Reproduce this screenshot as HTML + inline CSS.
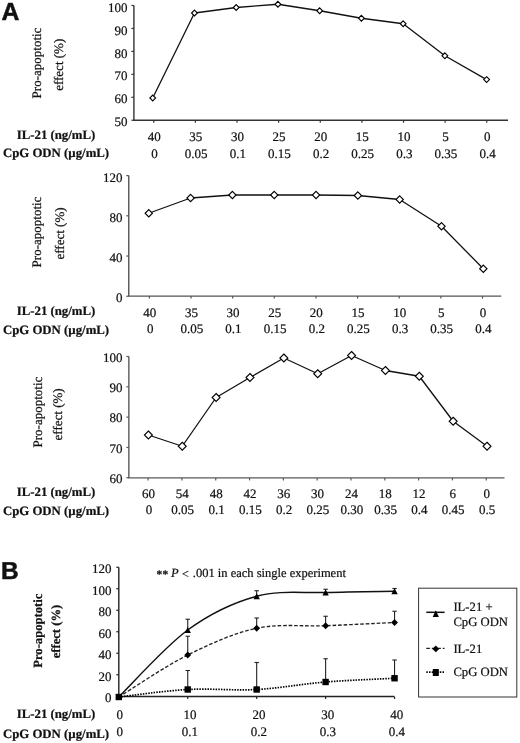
<!DOCTYPE html>
<html><head><meta charset="utf-8"><style>
html,body{margin:0;padding:0;background:#fff;}
svg{display:block;filter:blur(0.3px);}
text{text-rendering:geometricPrecision;fill:#111;stroke:#111;stroke-width:0.22px;}
</style></head><body>
<svg width="520" height="743" viewBox="0 0 520 743">
<rect width="520" height="743" fill="#fff"/>
<line x1="133.9" y1="5.4" x2="133.9" y2="120.25" stroke="#333" stroke-width="1.4"/>
<line x1="133.20000000000002" y1="120.25" x2="508" y2="120.25" stroke="#333" stroke-width="1.4"/>
<line x1="131.4" y1="5.5" x2="133.9" y2="5.5" stroke="#333" stroke-width="1.2"/>
<text x="127.50" y="11.60" font-size="13.0" text-anchor="end" font-weight="normal" font-style="normal" font-family='"Liberation Serif", serif' >100</text>
<line x1="131.4" y1="28.45" x2="133.9" y2="28.45" stroke="#333" stroke-width="1.2"/>
<text x="127.50" y="34.55" font-size="13.0" text-anchor="end" font-weight="normal" font-style="normal" font-family='"Liberation Serif", serif' >90</text>
<line x1="131.4" y1="51.4" x2="133.9" y2="51.4" stroke="#333" stroke-width="1.2"/>
<text x="127.50" y="57.50" font-size="13.0" text-anchor="end" font-weight="normal" font-style="normal" font-family='"Liberation Serif", serif' >80</text>
<line x1="131.4" y1="74.35" x2="133.9" y2="74.35" stroke="#333" stroke-width="1.2"/>
<text x="127.50" y="80.45" font-size="13.0" text-anchor="end" font-weight="normal" font-style="normal" font-family='"Liberation Serif", serif' >70</text>
<line x1="131.4" y1="97.3" x2="133.9" y2="97.3" stroke="#333" stroke-width="1.2"/>
<text x="127.50" y="103.40" font-size="13.0" text-anchor="end" font-weight="normal" font-style="normal" font-family='"Liberation Serif", serif' >60</text>
<line x1="131.4" y1="120.25" x2="133.9" y2="120.25" stroke="#333" stroke-width="1.2"/>
<text x="127.50" y="126.35" font-size="13.0" text-anchor="end" font-weight="normal" font-style="normal" font-family='"Liberation Serif", serif' >50</text>
<line x1="153.75" y1="120.25" x2="153.75" y2="122.75" stroke="#333" stroke-width="1.2"/>
<line x1="195.38" y1="120.25" x2="195.38" y2="122.75" stroke="#333" stroke-width="1.2"/>
<line x1="237.01" y1="120.25" x2="237.01" y2="122.75" stroke="#333" stroke-width="1.2"/>
<line x1="278.64" y1="120.25" x2="278.64" y2="122.75" stroke="#333" stroke-width="1.2"/>
<line x1="320.27" y1="120.25" x2="320.27" y2="122.75" stroke="#333" stroke-width="1.2"/>
<line x1="361.9" y1="120.25" x2="361.9" y2="122.75" stroke="#333" stroke-width="1.2"/>
<line x1="403.53000000000003" y1="120.25" x2="403.53000000000003" y2="122.75" stroke="#333" stroke-width="1.2"/>
<line x1="445.16" y1="120.25" x2="445.16" y2="122.75" stroke="#333" stroke-width="1.2"/>
<line x1="486.79" y1="120.25" x2="486.79" y2="122.75" stroke="#333" stroke-width="1.2"/>
<text x="154.15" y="141.30" font-size="13.0" text-anchor="middle" font-weight="normal" font-style="normal" font-family='"Liberation Serif", serif' >40</text>
<text x="195.78" y="141.30" font-size="13.0" text-anchor="middle" font-weight="normal" font-style="normal" font-family='"Liberation Serif", serif' >35</text>
<text x="237.41" y="141.30" font-size="13.0" text-anchor="middle" font-weight="normal" font-style="normal" font-family='"Liberation Serif", serif' >30</text>
<text x="279.04" y="141.30" font-size="13.0" text-anchor="middle" font-weight="normal" font-style="normal" font-family='"Liberation Serif", serif' >25</text>
<text x="320.67" y="141.30" font-size="13.0" text-anchor="middle" font-weight="normal" font-style="normal" font-family='"Liberation Serif", serif' >20</text>
<text x="362.30" y="141.30" font-size="13.0" text-anchor="middle" font-weight="normal" font-style="normal" font-family='"Liberation Serif", serif' >15</text>
<text x="403.93" y="141.30" font-size="13.0" text-anchor="middle" font-weight="normal" font-style="normal" font-family='"Liberation Serif", serif' >10</text>
<text x="445.56" y="141.30" font-size="13.0" text-anchor="middle" font-weight="normal" font-style="normal" font-family='"Liberation Serif", serif' >5</text>
<text x="487.19" y="141.30" font-size="13.0" text-anchor="middle" font-weight="normal" font-style="normal" font-family='"Liberation Serif", serif' >0</text>
<text x="154.55" y="157.50" font-size="13.0" text-anchor="middle" font-weight="normal" font-style="normal" font-family='"Liberation Serif", serif' >0</text>
<text x="196.18" y="157.50" font-size="13.0" text-anchor="middle" font-weight="normal" font-style="normal" font-family='"Liberation Serif", serif' >0.05</text>
<text x="237.81" y="157.50" font-size="13.0" text-anchor="middle" font-weight="normal" font-style="normal" font-family='"Liberation Serif", serif' >0.1</text>
<text x="279.44" y="157.50" font-size="13.0" text-anchor="middle" font-weight="normal" font-style="normal" font-family='"Liberation Serif", serif' >0.15</text>
<text x="321.07" y="157.50" font-size="13.0" text-anchor="middle" font-weight="normal" font-style="normal" font-family='"Liberation Serif", serif' >0.2</text>
<text x="362.70" y="157.50" font-size="13.0" text-anchor="middle" font-weight="normal" font-style="normal" font-family='"Liberation Serif", serif' >0.25</text>
<text x="404.33" y="157.50" font-size="13.0" text-anchor="middle" font-weight="normal" font-style="normal" font-family='"Liberation Serif", serif' >0.3</text>
<text x="445.96" y="157.50" font-size="13.0" text-anchor="middle" font-weight="normal" font-style="normal" font-family='"Liberation Serif", serif' >0.35</text>
<text x="487.59" y="157.50" font-size="13.0" text-anchor="middle" font-weight="normal" font-style="normal" font-family='"Liberation Serif", serif' >0.4</text>
<polyline points="152.73,98.00 194.47,13.00 236.20,7.50 277.94,4.25 319.67,10.75 361.41,18.25 403.15,23.75 444.88,55.80 486.62,79.60" fill="none" stroke="#111" stroke-width="1.3" stroke-linejoin="round"/>
<polygon points="152.73,95.10 155.63,98.00 152.73,100.90 149.83,98.00" fill="#fff" stroke="#000" stroke-width="1.1"/>
<polygon points="194.47,10.10 197.37,13.00 194.47,15.90 191.57,13.00" fill="#fff" stroke="#000" stroke-width="1.1"/>
<polygon points="236.20,4.60 239.10,7.50 236.20,10.40 233.30,7.50" fill="#fff" stroke="#000" stroke-width="1.1"/>
<polygon points="277.94,1.35 280.84,4.25 277.94,7.15 275.04,4.25" fill="#fff" stroke="#000" stroke-width="1.1"/>
<polygon points="319.67,7.85 322.57,10.75 319.67,13.65 316.77,10.75" fill="#fff" stroke="#000" stroke-width="1.1"/>
<polygon points="361.41,15.35 364.31,18.25 361.41,21.15 358.51,18.25" fill="#fff" stroke="#000" stroke-width="1.1"/>
<polygon points="403.15,20.85 406.05,23.75 403.15,26.65 400.25,23.75" fill="#fff" stroke="#000" stroke-width="1.1"/>
<polygon points="444.88,52.90 447.78,55.80 444.88,58.70 441.98,55.80" fill="#fff" stroke="#000" stroke-width="1.1"/>
<polygon points="486.62,76.70 489.52,79.60 486.62,82.50 483.72,79.60" fill="#fff" stroke="#000" stroke-width="1.1"/>
<text transform="translate(41.30,63.00) rotate(-90)" font-size="13.0" text-anchor="middle" font-family='"Liberation Serif", serif'>Pro-apoptotic</text>
<text transform="translate(62.75,64.80) rotate(-90)" font-size="13.0" text-anchor="middle" font-family='"Liberation Serif", serif'>effect (%)</text>
<text x="56.00" y="138.90" font-size="12.8" text-anchor="middle" font-weight="bold" font-style="normal" font-family='"Liberation Serif", serif' >IL-21 (ng/mL)</text>
<text x="56.00" y="157.30" font-size="12.8" text-anchor="middle" font-weight="bold" font-style="normal" font-family='"Liberation Serif", serif' >CpG ODN (µg/mL)</text>
<line x1="128.75" y1="175.6" x2="128.75" y2="296.1" stroke="#555" stroke-width="1.4"/>
<line x1="128.05" y1="296.1" x2="501.25" y2="296.1" stroke="#555" stroke-width="1.4"/>
<line x1="126.25" y1="175.6" x2="128.75" y2="175.6" stroke="#555" stroke-width="1.2"/>
<text x="122.50" y="181.70" font-size="13.0" text-anchor="end" font-weight="normal" font-style="normal" font-family='"Liberation Serif", serif' >120</text>
<line x1="126.25" y1="215.81666666666666" x2="128.75" y2="215.81666666666666" stroke="#555" stroke-width="1.2"/>
<text x="122.50" y="221.92" font-size="13.0" text-anchor="end" font-weight="normal" font-style="normal" font-family='"Liberation Serif", serif' >80</text>
<line x1="126.25" y1="256.0333333333333" x2="128.75" y2="256.0333333333333" stroke="#555" stroke-width="1.2"/>
<text x="122.50" y="262.13" font-size="13.0" text-anchor="end" font-weight="normal" font-style="normal" font-family='"Liberation Serif", serif' >40</text>
<line x1="126.25" y1="296.25" x2="128.75" y2="296.25" stroke="#555" stroke-width="1.2"/>
<text x="122.50" y="302.35" font-size="13.0" text-anchor="end" font-weight="normal" font-style="normal" font-family='"Liberation Serif", serif' >0</text>
<line x1="149.4" y1="296.1" x2="149.4" y2="298.6" stroke="#555" stroke-width="1.2"/>
<line x1="191.04000000000002" y1="296.1" x2="191.04000000000002" y2="298.6" stroke="#555" stroke-width="1.2"/>
<line x1="232.68" y1="296.1" x2="232.68" y2="298.6" stroke="#555" stroke-width="1.2"/>
<line x1="274.32" y1="296.1" x2="274.32" y2="298.6" stroke="#555" stroke-width="1.2"/>
<line x1="315.96000000000004" y1="296.1" x2="315.96000000000004" y2="298.6" stroke="#555" stroke-width="1.2"/>
<line x1="357.6" y1="296.1" x2="357.6" y2="298.6" stroke="#555" stroke-width="1.2"/>
<line x1="399.24" y1="296.1" x2="399.24" y2="298.6" stroke="#555" stroke-width="1.2"/>
<line x1="440.88" y1="296.1" x2="440.88" y2="298.6" stroke="#555" stroke-width="1.2"/>
<line x1="482.52" y1="296.1" x2="482.52" y2="298.6" stroke="#555" stroke-width="1.2"/>
<text x="149.80" y="317.00" font-size="13.0" text-anchor="middle" font-weight="normal" font-style="normal" font-family='"Liberation Serif", serif' >40</text>
<text x="191.44" y="317.00" font-size="13.0" text-anchor="middle" font-weight="normal" font-style="normal" font-family='"Liberation Serif", serif' >35</text>
<text x="233.08" y="317.00" font-size="13.0" text-anchor="middle" font-weight="normal" font-style="normal" font-family='"Liberation Serif", serif' >30</text>
<text x="274.72" y="317.00" font-size="13.0" text-anchor="middle" font-weight="normal" font-style="normal" font-family='"Liberation Serif", serif' >25</text>
<text x="316.36" y="317.00" font-size="13.0" text-anchor="middle" font-weight="normal" font-style="normal" font-family='"Liberation Serif", serif' >20</text>
<text x="358.00" y="317.00" font-size="13.0" text-anchor="middle" font-weight="normal" font-style="normal" font-family='"Liberation Serif", serif' >15</text>
<text x="399.64" y="317.00" font-size="13.0" text-anchor="middle" font-weight="normal" font-style="normal" font-family='"Liberation Serif", serif' >10</text>
<text x="441.28" y="317.00" font-size="13.0" text-anchor="middle" font-weight="normal" font-style="normal" font-family='"Liberation Serif", serif' >5</text>
<text x="482.92" y="317.00" font-size="13.0" text-anchor="middle" font-weight="normal" font-style="normal" font-family='"Liberation Serif", serif' >0</text>
<text x="150.20" y="333.25" font-size="13.0" text-anchor="middle" font-weight="normal" font-style="normal" font-family='"Liberation Serif", serif' >0</text>
<text x="191.84" y="333.25" font-size="13.0" text-anchor="middle" font-weight="normal" font-style="normal" font-family='"Liberation Serif", serif' >0.05</text>
<text x="233.48" y="333.25" font-size="13.0" text-anchor="middle" font-weight="normal" font-style="normal" font-family='"Liberation Serif", serif' >0.1</text>
<text x="275.12" y="333.25" font-size="13.0" text-anchor="middle" font-weight="normal" font-style="normal" font-family='"Liberation Serif", serif' >0.15</text>
<text x="316.76" y="333.25" font-size="13.0" text-anchor="middle" font-weight="normal" font-style="normal" font-family='"Liberation Serif", serif' >0.2</text>
<text x="358.40" y="333.25" font-size="13.0" text-anchor="middle" font-weight="normal" font-style="normal" font-family='"Liberation Serif", serif' >0.25</text>
<text x="400.04" y="333.25" font-size="13.0" text-anchor="middle" font-weight="normal" font-style="normal" font-family='"Liberation Serif", serif' >0.3</text>
<text x="441.68" y="333.25" font-size="13.0" text-anchor="middle" font-weight="normal" font-style="normal" font-family='"Liberation Serif", serif' >0.35</text>
<text x="483.32" y="333.25" font-size="13.0" text-anchor="middle" font-weight="normal" font-style="normal" font-family='"Liberation Serif", serif' >0.4</text>
<polyline points="148.77,213.25 190.59,198.00 232.41,195.00 274.23,195.00 316.05,195.00 357.87,195.50 399.69,199.50 441.51,226.25 483.33,268.75" fill="none" stroke="#111" stroke-width="1.3" stroke-linejoin="round"/>
<polygon points="148.77,209.55 152.47,213.25 148.77,216.95 145.07,213.25" fill="#fff" stroke="#000" stroke-width="1.1"/>
<polygon points="190.59,194.30 194.29,198.00 190.59,201.70 186.89,198.00" fill="#fff" stroke="#000" stroke-width="1.1"/>
<polygon points="232.41,191.30 236.11,195.00 232.41,198.70 228.71,195.00" fill="#fff" stroke="#000" stroke-width="1.1"/>
<polygon points="274.23,191.30 277.93,195.00 274.23,198.70 270.53,195.00" fill="#fff" stroke="#000" stroke-width="1.1"/>
<polygon points="316.05,191.30 319.75,195.00 316.05,198.70 312.35,195.00" fill="#fff" stroke="#000" stroke-width="1.1"/>
<polygon points="357.87,191.80 361.57,195.50 357.87,199.20 354.17,195.50" fill="#fff" stroke="#000" stroke-width="1.1"/>
<polygon points="399.69,195.80 403.39,199.50 399.69,203.20 395.99,199.50" fill="#fff" stroke="#000" stroke-width="1.1"/>
<polygon points="441.51,222.55 445.21,226.25 441.51,229.95 437.81,226.25" fill="#fff" stroke="#000" stroke-width="1.1"/>
<polygon points="483.33,265.05 487.03,268.75 483.33,272.45 479.63,268.75" fill="#fff" stroke="#000" stroke-width="1.1"/>
<text transform="translate(41.20,232.00) rotate(-90)" font-size="13.0" text-anchor="middle" font-family='"Liberation Serif", serif'>Pro-apoptotic</text>
<text transform="translate(63.85,233.50) rotate(-90)" font-size="13.0" text-anchor="middle" font-family='"Liberation Serif", serif'>effect (%)</text>
<text x="56.00" y="315.00" font-size="12.8" text-anchor="middle" font-weight="bold" font-style="normal" font-family='"Liberation Serif", serif' >IL-21 (ng/mL)</text>
<text x="56.00" y="333.75" font-size="12.8" text-anchor="middle" font-weight="bold" font-style="normal" font-family='"Liberation Serif", serif' >CpG ODN (µg/mL)</text>
<line x1="128.85" y1="356.5" x2="128.85" y2="477.9" stroke="#5a5a5a" stroke-width="1.4"/>
<line x1="128.15" y1="477.9" x2="504.5" y2="477.9" stroke="#5a5a5a" stroke-width="1.4"/>
<line x1="126.35" y1="356.5" x2="128.85" y2="356.5" stroke="#5a5a5a" stroke-width="1.2"/>
<text x="122.50" y="361.80" font-size="13.0" text-anchor="end" font-weight="normal" font-style="normal" font-family='"Liberation Serif", serif' >100</text>
<line x1="126.35" y1="386.8125" x2="128.85" y2="386.8125" stroke="#5a5a5a" stroke-width="1.2"/>
<text x="122.50" y="392.11" font-size="13.0" text-anchor="end" font-weight="normal" font-style="normal" font-family='"Liberation Serif", serif' >90</text>
<line x1="126.35" y1="417.125" x2="128.85" y2="417.125" stroke="#5a5a5a" stroke-width="1.2"/>
<text x="122.50" y="422.43" font-size="13.0" text-anchor="end" font-weight="normal" font-style="normal" font-family='"Liberation Serif", serif' >80</text>
<line x1="126.35" y1="447.4375" x2="128.85" y2="447.4375" stroke="#5a5a5a" stroke-width="1.2"/>
<text x="122.50" y="452.74" font-size="13.0" text-anchor="end" font-weight="normal" font-style="normal" font-family='"Liberation Serif", serif' >70</text>
<line x1="126.35" y1="477.75" x2="128.85" y2="477.75" stroke="#5a5a5a" stroke-width="1.2"/>
<text x="122.50" y="483.05" font-size="13.0" text-anchor="end" font-weight="normal" font-style="normal" font-family='"Liberation Serif", serif' >60</text>
<line x1="148.1" y1="477.9" x2="148.1" y2="480.4" stroke="#5a5a5a" stroke-width="1.2"/>
<line x1="181.915" y1="477.9" x2="181.915" y2="480.4" stroke="#5a5a5a" stroke-width="1.2"/>
<line x1="215.73" y1="477.9" x2="215.73" y2="480.4" stroke="#5a5a5a" stroke-width="1.2"/>
<line x1="249.545" y1="477.9" x2="249.545" y2="480.4" stroke="#5a5a5a" stroke-width="1.2"/>
<line x1="283.36" y1="477.9" x2="283.36" y2="480.4" stroke="#5a5a5a" stroke-width="1.2"/>
<line x1="317.17499999999995" y1="477.9" x2="317.17499999999995" y2="480.4" stroke="#5a5a5a" stroke-width="1.2"/>
<line x1="350.99" y1="477.9" x2="350.99" y2="480.4" stroke="#5a5a5a" stroke-width="1.2"/>
<line x1="384.80499999999995" y1="477.9" x2="384.80499999999995" y2="480.4" stroke="#5a5a5a" stroke-width="1.2"/>
<line x1="418.62" y1="477.9" x2="418.62" y2="480.4" stroke="#5a5a5a" stroke-width="1.2"/>
<line x1="452.43499999999995" y1="477.9" x2="452.43499999999995" y2="480.4" stroke="#5a5a5a" stroke-width="1.2"/>
<line x1="486.25" y1="477.9" x2="486.25" y2="480.4" stroke="#5a5a5a" stroke-width="1.2"/>
<text x="148.50" y="497.50" font-size="13.0" text-anchor="middle" font-weight="normal" font-style="normal" font-family='"Liberation Serif", serif' >60</text>
<text x="182.31" y="497.50" font-size="13.0" text-anchor="middle" font-weight="normal" font-style="normal" font-family='"Liberation Serif", serif' >54</text>
<text x="216.13" y="497.50" font-size="13.0" text-anchor="middle" font-weight="normal" font-style="normal" font-family='"Liberation Serif", serif' >48</text>
<text x="249.94" y="497.50" font-size="13.0" text-anchor="middle" font-weight="normal" font-style="normal" font-family='"Liberation Serif", serif' >42</text>
<text x="283.76" y="497.50" font-size="13.0" text-anchor="middle" font-weight="normal" font-style="normal" font-family='"Liberation Serif", serif' >36</text>
<text x="317.57" y="497.50" font-size="13.0" text-anchor="middle" font-weight="normal" font-style="normal" font-family='"Liberation Serif", serif' >30</text>
<text x="351.39" y="497.50" font-size="13.0" text-anchor="middle" font-weight="normal" font-style="normal" font-family='"Liberation Serif", serif' >24</text>
<text x="385.20" y="497.50" font-size="13.0" text-anchor="middle" font-weight="normal" font-style="normal" font-family='"Liberation Serif", serif' >18</text>
<text x="419.02" y="497.50" font-size="13.0" text-anchor="middle" font-weight="normal" font-style="normal" font-family='"Liberation Serif", serif' >12</text>
<text x="452.83" y="497.50" font-size="13.0" text-anchor="middle" font-weight="normal" font-style="normal" font-family='"Liberation Serif", serif' >6</text>
<text x="486.65" y="497.50" font-size="13.0" text-anchor="middle" font-weight="normal" font-style="normal" font-family='"Liberation Serif", serif' >0</text>
<text x="148.90" y="514.25" font-size="13.0" text-anchor="middle" font-weight="normal" font-style="normal" font-family='"Liberation Serif", serif' >0</text>
<text x="182.72" y="514.25" font-size="13.0" text-anchor="middle" font-weight="normal" font-style="normal" font-family='"Liberation Serif", serif' >0.05</text>
<text x="216.53" y="514.25" font-size="13.0" text-anchor="middle" font-weight="normal" font-style="normal" font-family='"Liberation Serif", serif' >0.1</text>
<text x="250.34" y="514.25" font-size="13.0" text-anchor="middle" font-weight="normal" font-style="normal" font-family='"Liberation Serif", serif' >0.15</text>
<text x="284.16" y="514.25" font-size="13.0" text-anchor="middle" font-weight="normal" font-style="normal" font-family='"Liberation Serif", serif' >0.2</text>
<text x="317.97" y="514.25" font-size="13.0" text-anchor="middle" font-weight="normal" font-style="normal" font-family='"Liberation Serif", serif' >0.25</text>
<text x="351.79" y="514.25" font-size="13.0" text-anchor="middle" font-weight="normal" font-style="normal" font-family='"Liberation Serif", serif' >0.30</text>
<text x="385.60" y="514.25" font-size="13.0" text-anchor="middle" font-weight="normal" font-style="normal" font-family='"Liberation Serif", serif' >0.35</text>
<text x="419.42" y="514.25" font-size="13.0" text-anchor="middle" font-weight="normal" font-style="normal" font-family='"Liberation Serif", serif' >0.4</text>
<text x="453.23" y="514.25" font-size="13.0" text-anchor="middle" font-weight="normal" font-style="normal" font-family='"Liberation Serif", serif' >0.45</text>
<text x="487.05" y="514.25" font-size="13.0" text-anchor="middle" font-weight="normal" font-style="normal" font-family='"Liberation Serif", serif' >0.5</text>
<polyline points="148.39,435.00 182.25,446.25 216.12,397.50 249.98,377.50 283.85,358.00 317.71,373.75 351.57,355.50 385.44,370.50 419.30,376.25 453.17,421.25 487.03,446.25" fill="none" stroke="#111" stroke-width="1.3" stroke-linejoin="round"/>
<polygon points="148.39,431.00 152.39,435.00 148.39,439.00 144.39,435.00" fill="#fff" stroke="#000" stroke-width="1.1"/>
<polygon points="182.25,442.25 186.25,446.25 182.25,450.25 178.25,446.25" fill="#fff" stroke="#000" stroke-width="1.1"/>
<polygon points="216.12,393.50 220.12,397.50 216.12,401.50 212.12,397.50" fill="#fff" stroke="#000" stroke-width="1.1"/>
<polygon points="249.98,373.50 253.98,377.50 249.98,381.50 245.98,377.50" fill="#fff" stroke="#000" stroke-width="1.1"/>
<polygon points="283.85,354.00 287.85,358.00 283.85,362.00 279.85,358.00" fill="#fff" stroke="#000" stroke-width="1.1"/>
<polygon points="317.71,369.75 321.71,373.75 317.71,377.75 313.71,373.75" fill="#fff" stroke="#000" stroke-width="1.1"/>
<polygon points="351.57,351.50 355.57,355.50 351.57,359.50 347.57,355.50" fill="#fff" stroke="#000" stroke-width="1.1"/>
<polygon points="385.44,366.50 389.44,370.50 385.44,374.50 381.44,370.50" fill="#fff" stroke="#000" stroke-width="1.1"/>
<polygon points="419.30,372.25 423.30,376.25 419.30,380.25 415.30,376.25" fill="#fff" stroke="#000" stroke-width="1.1"/>
<polygon points="453.17,417.25 457.17,421.25 453.17,425.25 449.17,421.25" fill="#fff" stroke="#000" stroke-width="1.1"/>
<polygon points="487.03,442.25 491.03,446.25 487.03,450.25 483.03,446.25" fill="#fff" stroke="#000" stroke-width="1.1"/>
<text transform="translate(41.65,412.10) rotate(-90)" font-size="13.0" text-anchor="middle" font-family='"Liberation Serif", serif'>Pro-apoptotic</text>
<text transform="translate(61.90,414.40) rotate(-90)" font-size="13.0" text-anchor="middle" font-family='"Liberation Serif", serif'>effect (%)</text>
<text x="56.00" y="495.50" font-size="12.8" text-anchor="middle" font-weight="bold" font-style="normal" font-family='"Liberation Serif", serif' >IL-21 (ng/mL)</text>
<text x="56.00" y="514.50" font-size="12.8" text-anchor="middle" font-weight="bold" font-style="normal" font-family='"Liberation Serif", serif' >CpG ODN (µg/mL)</text>
<text x="1.60" y="19.70" font-size="24.8" text-anchor="start" font-weight="bold" font-style="normal" font-family='"Liberation Sans", sans-serif' style="stroke-width:0.5px">A</text>
<text x="1.00" y="578.70" font-size="24.5" text-anchor="start" font-weight="bold" font-style="normal" font-family='"Liberation Sans", sans-serif' style="stroke-width:0.5px">B</text>
<line x1="118.8" y1="567.25" x2="118.8" y2="696.5" stroke="#222" stroke-width="1.4"/>
<line x1="118.1" y1="696.5" x2="394.25" y2="696.5" stroke="#222" stroke-width="1.4"/>
<line x1="116.3" y1="567.25" x2="118.8" y2="567.25" stroke="#222" stroke-width="1.2"/>
<text x="111.50" y="573.35" font-size="13.0" text-anchor="end" font-weight="normal" font-style="normal" font-family='"Liberation Serif", serif' >120</text>
<line x1="116.3" y1="588.75" x2="118.8" y2="588.75" stroke="#222" stroke-width="1.2"/>
<text x="111.50" y="594.85" font-size="13.0" text-anchor="end" font-weight="normal" font-style="normal" font-family='"Liberation Serif", serif' >100</text>
<line x1="116.3" y1="610.25" x2="118.8" y2="610.25" stroke="#222" stroke-width="1.2"/>
<text x="111.50" y="616.35" font-size="13.0" text-anchor="end" font-weight="normal" font-style="normal" font-family='"Liberation Serif", serif' >80</text>
<line x1="116.3" y1="631.75" x2="118.8" y2="631.75" stroke="#222" stroke-width="1.2"/>
<text x="111.50" y="637.85" font-size="13.0" text-anchor="end" font-weight="normal" font-style="normal" font-family='"Liberation Serif", serif' >60</text>
<line x1="116.3" y1="653.25" x2="118.8" y2="653.25" stroke="#222" stroke-width="1.2"/>
<text x="111.50" y="659.35" font-size="13.0" text-anchor="end" font-weight="normal" font-style="normal" font-family='"Liberation Serif", serif' >40</text>
<line x1="116.3" y1="674.75" x2="118.8" y2="674.75" stroke="#222" stroke-width="1.2"/>
<text x="111.50" y="680.85" font-size="13.0" text-anchor="end" font-weight="normal" font-style="normal" font-family='"Liberation Serif", serif' >20</text>
<line x1="116.3" y1="696.25" x2="118.8" y2="696.25" stroke="#222" stroke-width="1.2"/>
<text x="111.50" y="702.35" font-size="13.0" text-anchor="end" font-weight="normal" font-style="normal" font-family='"Liberation Serif", serif' >0</text>
<line x1="118.8" y1="696.5" x2="118.8" y2="699.0" stroke="#222" stroke-width="1.2"/>
<text x="119.80" y="718.60" font-size="13.0" text-anchor="middle" font-weight="normal" font-style="normal" font-family='"Liberation Serif", serif' >0</text>
<text x="119.80" y="736.30" font-size="13.0" text-anchor="middle" font-weight="normal" font-style="normal" font-family='"Liberation Serif", serif' >0</text>
<line x1="187.7375" y1="696.5" x2="187.7375" y2="699.0" stroke="#222" stroke-width="1.2"/>
<text x="189.94" y="718.60" font-size="13.0" text-anchor="middle" font-weight="normal" font-style="normal" font-family='"Liberation Serif", serif' >10</text>
<text x="189.94" y="736.30" font-size="13.0" text-anchor="middle" font-weight="normal" font-style="normal" font-family='"Liberation Serif", serif' >0.1</text>
<line x1="256.675" y1="696.5" x2="256.675" y2="699.0" stroke="#222" stroke-width="1.2"/>
<text x="258.88" y="718.60" font-size="13.0" text-anchor="middle" font-weight="normal" font-style="normal" font-family='"Liberation Serif", serif' >20</text>
<text x="258.88" y="736.30" font-size="13.0" text-anchor="middle" font-weight="normal" font-style="normal" font-family='"Liberation Serif", serif' >0.2</text>
<line x1="325.6125" y1="696.5" x2="325.6125" y2="699.0" stroke="#222" stroke-width="1.2"/>
<text x="327.81" y="718.60" font-size="13.0" text-anchor="middle" font-weight="normal" font-style="normal" font-family='"Liberation Serif", serif' >30</text>
<text x="327.81" y="736.30" font-size="13.0" text-anchor="middle" font-weight="normal" font-style="normal" font-family='"Liberation Serif", serif' >0.3</text>
<line x1="394.55" y1="696.5" x2="394.55" y2="699.0" stroke="#222" stroke-width="1.2"/>
<text x="396.75" y="718.60" font-size="13.0" text-anchor="middle" font-weight="normal" font-style="normal" font-family='"Liberation Serif", serif' >40</text>
<text x="396.75" y="736.30" font-size="13.0" text-anchor="middle" font-weight="normal" font-style="normal" font-family='"Liberation Serif", serif' >0.4</text>
<text x="56.00" y="717.50" font-size="12.8" text-anchor="middle" font-weight="bold" font-style="normal" font-family='"Liberation Serif", serif' >IL-21 (ng/mL)</text>
<text x="56.00" y="737.50" font-size="12.8" text-anchor="middle" font-weight="bold" font-style="normal" font-family='"Liberation Serif", serif' >CpG ODN (µg/mL)</text>
<text transform="translate(42.25,630.75) rotate(-90)" font-size="12.6" text-anchor="middle" font-weight="bold" font-family='"Liberation Serif", serif'>Pro-apoptotic</text>
<text transform="translate(60.05,631.55) rotate(-90)" font-size="12.6" text-anchor="middle" font-weight="bold" font-family='"Liberation Serif", serif'>effect (%)</text>
<text x="159.4" y="577.6" font-size="11.5" text-anchor="middle" font-weight="bold" font-family='"Liberation Serif", serif'>*</text>
<text x="165.4" y="577.6" font-size="11.5" text-anchor="middle" font-weight="bold" font-family='"Liberation Serif", serif'>*</text>
<text x="171.0" y="577" font-size="12.5" font-style="italic" font-family='"Liberation Serif", serif'>P</text>
<text x="181.7" y="577.5" font-size="12.5" font-family='"Liberation Serif", serif'>&lt;</text>
<text x="192.8" y="577" font-size="12.5" font-family='"Liberation Serif", serif'>.001 in each single experiment</text>
<path d="M118.80,697.00 C130.29,685.83 164.76,646.79 187.74,630.00 C210.72,613.21 233.70,602.50 256.68,596.25 C279.65,590.00 302.63,593.33 325.61,592.50 C348.59,591.67 383.06,591.46 394.55,591.25" fill="none" stroke="#111" stroke-width="1.5"/>
<path d="M118.80,697.00 C130.29,690.00 164.76,666.46 187.74,655.00 C210.72,643.54 233.70,633.12 256.68,628.25 C279.65,623.38 302.63,626.71 325.61,625.75 C348.59,624.79 383.06,623.04 394.55,622.50" fill="none" stroke="#222" stroke-width="1.35" stroke-dasharray="3.6 1.9"/>
<path d="M118.80,697.00 C130.29,695.75 164.76,690.75 187.74,689.50 C210.72,688.25 233.70,690.75 256.68,689.50 C279.65,688.25 302.63,683.88 325.61,682.00 C348.59,680.12 383.06,678.88 394.55,678.25" fill="none" stroke="#000" stroke-width="1.7" stroke-dasharray="1.5 1.2"/>
<line x1="187.7375" y1="619.25" x2="187.7375" y2="630" stroke="#222" stroke-width="1.1"/>
<line x1="185.53750000000002" y1="619.25" x2="189.9375" y2="619.25" stroke="#222" stroke-width="1.1"/>
<line x1="256.675" y1="590.75" x2="256.675" y2="596.25" stroke="#222" stroke-width="1.1"/>
<line x1="254.47500000000002" y1="590.75" x2="258.875" y2="590.75" stroke="#222" stroke-width="1.1"/>
<line x1="325.6125" y1="589.25" x2="325.6125" y2="592.5" stroke="#222" stroke-width="1.1"/>
<line x1="323.4125" y1="589.25" x2="327.8125" y2="589.25" stroke="#222" stroke-width="1.1"/>
<line x1="394.55" y1="588.5" x2="394.55" y2="591.25" stroke="#222" stroke-width="1.1"/>
<line x1="392.35" y1="588.5" x2="396.75" y2="588.5" stroke="#222" stroke-width="1.1"/>
<line x1="187.7375" y1="636.25" x2="187.7375" y2="655" stroke="#222" stroke-width="1.1"/>
<line x1="185.53750000000002" y1="636.25" x2="189.9375" y2="636.25" stroke="#222" stroke-width="1.1"/>
<line x1="256.675" y1="618" x2="256.675" y2="628.25" stroke="#222" stroke-width="1.1"/>
<line x1="254.47500000000002" y1="618" x2="258.875" y2="618" stroke="#222" stroke-width="1.1"/>
<line x1="325.6125" y1="616.25" x2="325.6125" y2="625.75" stroke="#222" stroke-width="1.1"/>
<line x1="323.4125" y1="616.25" x2="327.8125" y2="616.25" stroke="#222" stroke-width="1.1"/>
<line x1="394.55" y1="611.25" x2="394.55" y2="622.5" stroke="#222" stroke-width="1.1"/>
<line x1="392.35" y1="611.25" x2="396.75" y2="611.25" stroke="#222" stroke-width="1.1"/>
<line x1="187.7375" y1="670.5" x2="187.7375" y2="689.5" stroke="#222" stroke-width="1.1"/>
<line x1="185.53750000000002" y1="670.5" x2="189.9375" y2="670.5" stroke="#222" stroke-width="1.1"/>
<line x1="256.675" y1="662.5" x2="256.675" y2="689.5" stroke="#222" stroke-width="1.1"/>
<line x1="254.47500000000002" y1="662.5" x2="258.875" y2="662.5" stroke="#222" stroke-width="1.1"/>
<line x1="325.6125" y1="658.75" x2="325.6125" y2="682" stroke="#222" stroke-width="1.1"/>
<line x1="323.4125" y1="658.75" x2="327.8125" y2="658.75" stroke="#222" stroke-width="1.1"/>
<line x1="394.55" y1="660" x2="394.55" y2="678.25" stroke="#222" stroke-width="1.1"/>
<line x1="392.35" y1="660" x2="396.75" y2="660" stroke="#222" stroke-width="1.1"/>
<polygon points="187.74,627.12 190.94,632.88 184.54,632.88" fill="#000"/>
<polygon points="256.68,593.37 259.88,599.13 253.48,599.13" fill="#000"/>
<polygon points="325.61,589.62 328.81,595.38 322.41,595.38" fill="#000"/>
<polygon points="394.55,588.37 397.75,594.13 391.35,594.13" fill="#000"/>
<polygon points="187.74,651.60 191.14,655.00 187.74,658.40 184.34,655.00" fill="#000" stroke="#000" stroke-width="0"/>
<polygon points="256.68,624.85 260.07,628.25 256.68,631.65 253.28,628.25" fill="#000" stroke="#000" stroke-width="0"/>
<polygon points="325.61,622.35 329.01,625.75 325.61,629.15 322.21,625.75" fill="#000" stroke="#000" stroke-width="0"/>
<polygon points="394.55,619.10 397.95,622.50 394.55,625.90 391.15,622.50" fill="#000" stroke="#000" stroke-width="0"/>
<rect x="115.60" y="693.80" width="6.4" height="6.4" fill="#000"/>
<rect x="184.54" y="686.30" width="6.4" height="6.4" fill="#000"/>
<rect x="253.48" y="686.30" width="6.4" height="6.4" fill="#000"/>
<rect x="322.41" y="678.80" width="6.4" height="6.4" fill="#000"/>
<rect x="391.35" y="675.05" width="6.4" height="6.4" fill="#000"/>
<rect x="418.6" y="588.2" width="98.2" height="108.8" fill="none" stroke="#333" stroke-width="1"/>
<line x1="426.3" y1="612.3" x2="444.6" y2="612.3" stroke="#111" stroke-width="1.5"/>
<polygon points="435.80,610.20 438.90,617.00 432.70,617.00" fill="#000"/>
<line x1="426.3" y1="648.4" x2="444.6" y2="648.4" stroke="#222" stroke-width="1.35" stroke-dasharray="3.6 1.9"/>
<polygon points="435.80,645.50 439.20,648.90 435.80,652.30 432.40,648.90" fill="#000" stroke="#000" stroke-width="0"/>
<line x1="426.3" y1="672.2" x2="444.6" y2="672.2" stroke="#000" stroke-width="1.7" stroke-dasharray="1.5 1.2"/>
<rect x="432.80" y="669.00" width="6.0" height="7.0" fill="#000"/>
<text x="453.40" y="611.30" font-size="12.7" text-anchor="start" font-weight="normal" font-style="normal" font-family='"Liberation Serif", serif' >IL-21 +</text>
<text x="453.40" y="625.50" font-size="12.7" text-anchor="start" font-weight="normal" font-style="normal" font-family='"Liberation Serif", serif' >CpG ODN</text>
<text x="453.40" y="653.20" font-size="12.7" text-anchor="start" font-weight="normal" font-style="normal" font-family='"Liberation Serif", serif' >IL-21</text>
<text x="453.40" y="676.30" font-size="12.7" text-anchor="start" font-weight="normal" font-style="normal" font-family='"Liberation Serif", serif' >CpG ODN</text>
</svg>
</body></html>
